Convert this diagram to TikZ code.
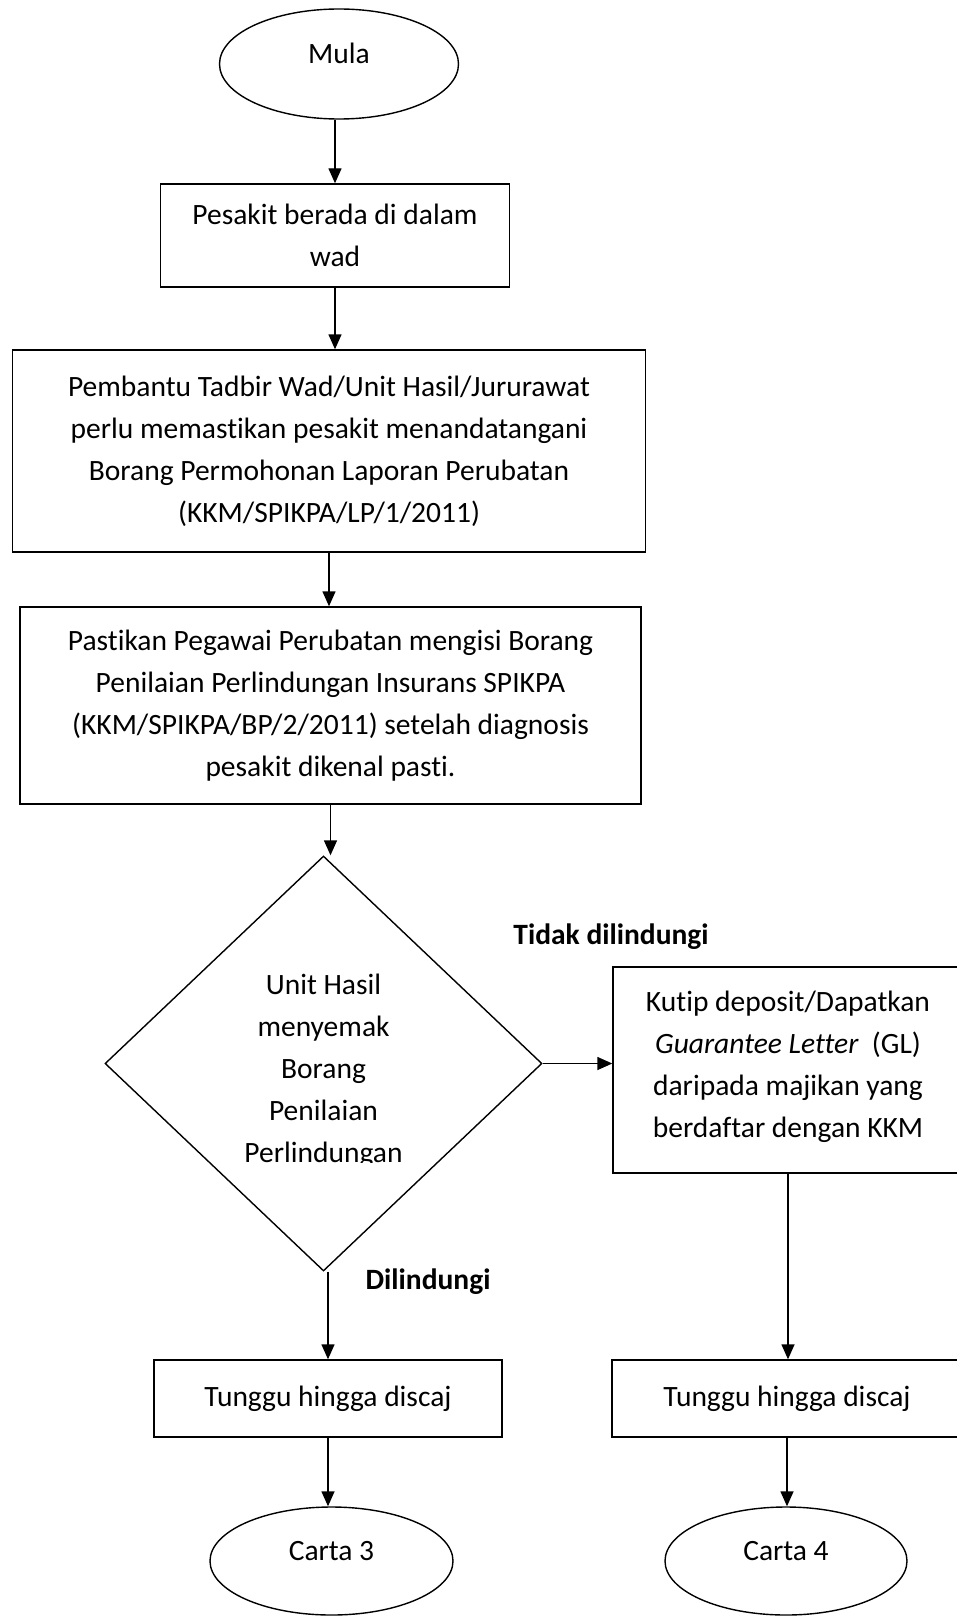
\documentclass[tikz,border=0pt]{standalone}
\usepackage{fontspec}
\setmainfont[Ligatures=NoCommon]{Carlito}
\usetikzlibrary{shapes,arrows.meta,positioning}
\tikzstyle{arrow} = [line width=1.4pt,-{Triangle[width=13pt,length=15pt]}]

\begin{document}
\begin{tikzpicture}[x=1pt,y=-1pt,font=\fontsize{29.5pt}{42pt}\selectfont]
\tikzset{box/.style={draw,line width=1.4pt,align=center,inner sep=0pt},
  ends/.style={draw,ellipse,line width=1.4pt,inner sep=0pt,text height=19pt,text depth=20pt},
  choice/.style={draw,diamond,line width=1.4pt,inner sep=0pt}}
\useasboundingbox[fill=white] (0,0) rectangle (956,1616);

% left column
\node[ends,minimum width=239pt,minimum height=110pt] (mula) at (339,64) {Mula};
\node[box,minimum width=349pt,minimum height=103pt] (wad) at (335,235.5) {Pesakit berada di dalam\\wad};
\node[box,minimum width=633pt,minimum height=202pt] (tandatangan) at (329,451) {Pembantu Tadbir Wad/Unit Hasil/Jururawat\\perlu memastikan pesakit menandatangani\\Borang Permohonan Laporan Perubatan\\(KKM/SPIKPA/LP/1/2011)};
\node[box,minimum width=621pt,minimum height=197pt] (borang) at (330.5,705.5) {Pastikan Pegawai Perubatan mengisi Borang\\Penilaian Perlindungan Insurans SPIKPA\\(KKM/SPIKPA/BP/2/2011) setelah diagnosis\\pesakit dikenal pasti.};
\node[choice,minimum width=437pt,minimum height=415pt] (semak) at (323.5,1063.5) {};
\begin{scope}
\clip (0,0) rectangle (956,1162);
\node[align=center] (semakteks) at (323.5,1071) {Unit Hasil\\menyemak\\Borang\\Penilaian\\Perlindungan};
\end{scope}
\node[box,minimum width=348pt,minimum height=77pt] (tunggukiri) at (328,1398.5) {Tunggu hingga discaj};
\node[ends,minimum width=243pt,minimum height=108pt] (carta3) at (331.5,1561) {Carta 3};

% right column
\node[box,minimum width=350pt,minimum height=206pt] (gl) at (788,1070) {Kutip deposit/Dapatkan\\\textit{Guarantee Letter}~~(GL)\\daripada majikan yang\\berdaftar dengan KKM\\[-30pt]};
\node[box,minimum width=350pt,minimum height=77pt] (tunggukanan) at (787,1398.5) {Tunggu hingga discaj};
\node[ends,minimum width=242pt,minimum height=108pt] (carta4) at (786,1561) {Carta 4};

% labels
\node[font=\fontsize{29.5pt}{42pt}\selectfont\bfseries] (tidak) at (611,937) {Tidak dilindungi};
\node[font=\fontsize{29.5pt}{42pt}\selectfont\bfseries] (dilindungi) at (428,1282) {Dilindungi};

% arrows
\draw[arrow] (mula.south -| wad.north) -- (wad.north);
\draw[arrow] (wad.south) -- (wad.south |- tandatangan.north);
\draw[arrow] (tandatangan.south) -- (tandatangan.south |- borang.north);
\draw[arrow] (borang.south) -- (borang.south |- semak.north);
\draw[arrow] (semak.east) -- (semak.east -| gl.west);
\draw[arrow] (tunggukiri.north |- semak.south) -- (tunggukiri.north);
\draw[arrow] (gl.south) -- (gl.south |- tunggukanan.north);
\draw[arrow] (tunggukiri.south) -- (tunggukiri.south |- carta3.north);
\draw[arrow] (tunggukanan.south) -- (tunggukanan.south |- carta4.north);
\end{tikzpicture}
\end{document}
